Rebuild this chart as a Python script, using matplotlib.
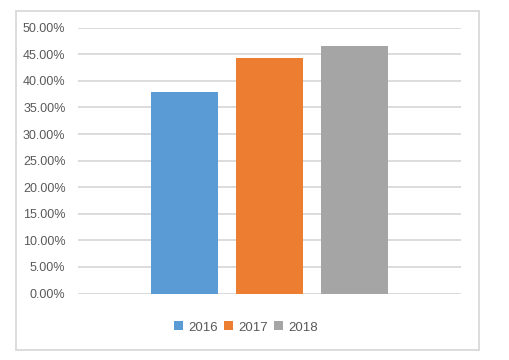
import matplotlib
matplotlib.use("Agg")
import matplotlib.pyplot as plt
from matplotlib.patches import Rectangle
from matplotlib.ticker import FuncFormatter

plt.rcParams["font.family"] = ["Liberation Sans", "DejaVu Sans"]

series = ["2016", "2017", "2018"]
values = [37.9, 44.3, 46.55]
colors = ["#5b9bd5", "#ed7d31", "#a5a5a5"]
yticks = [0, 5, 10, 15, 20, 25, 30, 35, 40, 45, 50]

W, H = 509, 360
fig = plt.figure(figsize=(W / 100, H / 100), dpi=100)
fig.patch.set_facecolor("white")

# outer chart border
fig.add_artist(Rectangle((15.5 / W, 1 - 350 / H), (479 - 15.5) / W, (350 - 10.5) / H,
                         transform=fig.transFigure, fill=False, edgecolor="#d9d9d9", linewidth=1.3))

left, right = 78 / W, 461 / W
bottom, top = 1 - 293.5 / H, 1 - 27.7 / H
ax = fig.add_axes([left, bottom, right - left, top - bottom])

xs = [-1, 0, 1]
for x, v, c, s in zip(xs, values, colors, series):
    ax.bar(x, v, width=67 / 85, color=c, label=s, zorder=3)

ax.set_xlim(-383 / 85 / 2, 383 / 85 / 2)
ax.set_ylim(0, 50)
ax.set_yticks(yticks)
ax.yaxis.set_major_formatter(FuncFormatter(lambda v, p: f"{v:.2f}%"))
ax.set_xticks([])
ax.grid(axis="y", color="#d9d9d9", linewidth=1.3, zorder=0)
for sp in ax.spines.values():
    sp.set_visible(False)
ax.tick_params(axis="y", length=0, pad=9, labelsize=9, labelcolor="#595959")
ax.set_facecolor("none")

leg = fig.legend(loc="center", bbox_to_anchor=(246 / W, 1 - 327.5 / H), ncol=3, frameon=False,
                 fontsize=9.5, handlelength=0.65, handleheight=0.65, handletextpad=0.4,
                 columnspacing=0.5)
for t in leg.get_texts():
    t.set_color("#595959")

fig.savefig("out.png", dpi=100, facecolor="white")
